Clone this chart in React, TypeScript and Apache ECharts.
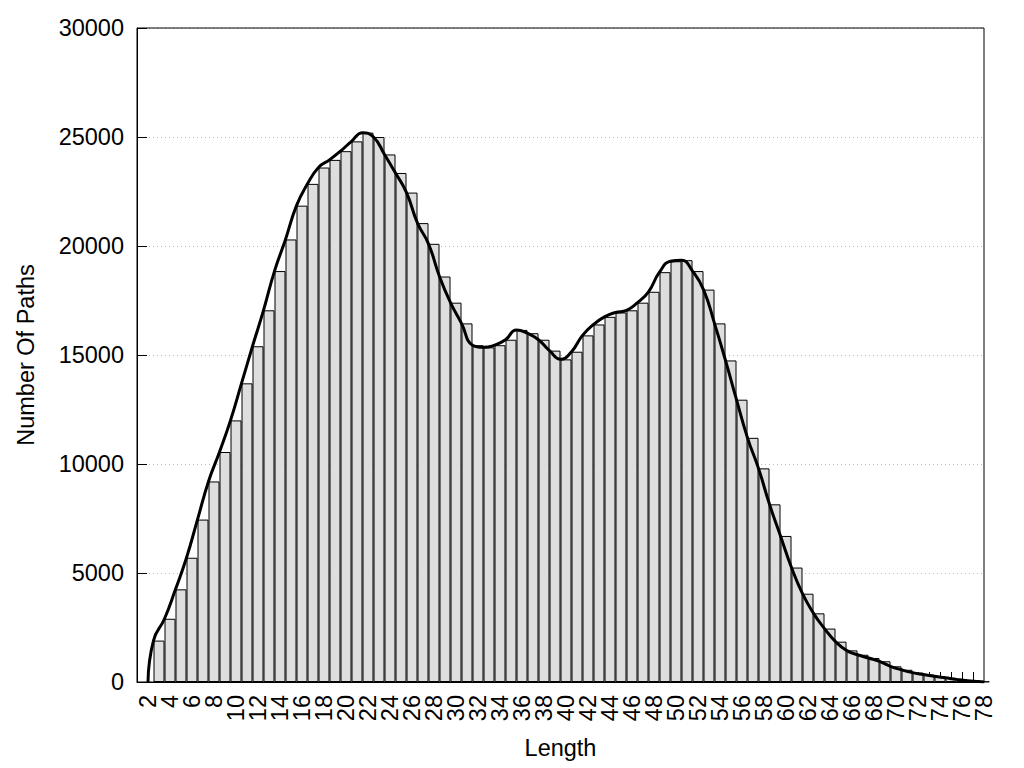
import React, { useEffect, useRef } from "react";
import * as echarts from "echarts";

// Histogram bins (path length) and their counts
const lengths = [
  3, 4, 5, 6, 7, 8, 9, 10, 11, 12, 13, 14, 15, 16, 17, 18, 19, 20, 21, 22,
  23, 24, 25, 26, 27, 28, 29, 30, 31, 32, 33, 34, 35, 36, 37, 38, 39, 40, 41, 42,
  43, 44, 45, 46, 47, 48, 49, 50, 51, 52, 53, 54, 55, 56, 57, 58, 59, 60, 61, 62,
  63, 64, 65, 66, 67, 68, 69, 70, 71, 72, 73, 74, 75, 76, 77, 78,
];
const pathCounts = [
  1900, 2900, 4250, 5700, 7450, 9200, 10550, 12000, 13700, 15400,
  17050, 18850, 20300, 21850, 22850, 23600, 23950, 24350, 24800, 25200,
  25000, 24200, 23350, 22450, 21050, 20100, 18600, 17400, 16450, 15450,
  15350, 15450, 15700, 16150, 16000, 15700, 15200, 14800, 15150, 15900,
  16400, 16750, 16950, 17050, 17400, 17900, 18800, 19300, 19350, 18850,
  18000, 16450, 14750, 12950, 11200, 9800, 8150, 6700, 5250, 4050,
  3150, 2450, 1850, 1450, 1250, 1100, 950, 720, 560, 430,
  340, 260, 190, 120, 60, 20,
];

// Smoothed curve drawn over the histogram (passes the bins' upper-left corners)
const curveLengths = [
  2, 2.5, 3.5, 4.5, 5.5, 6.5, 7.5, 8.5, 9.5, 10.5, 11.5, 12.5, 13.5, 14.5, 15.5,
  16.5, 17.5, 18.5, 19.5, 20.5, 21.5, 22.5, 23.5, 24.5, 25.5, 26.5, 27.5, 28.5,
  29.5, 30.5, 31.5, 32.5, 33.5, 34.5, 35.5, 36.5, 37.5, 38.5, 39.5, 40.5, 41.5,
  42.5, 43.5, 44.5, 45.5, 46.5, 47.5, 48.5, 49.5, 50.5, 51.5, 52.5, 53.5, 54.5,
  55.5, 56.5, 57.5, 58.5, 59.5, 60.5, 61.5, 62.5, 63.5, 64.5, 65.5, 66.5, 67.5,
  68.5, 69.5, 70.5, 71.5, 72.5, 73.5, 74.5, 75.5, 76.5, 77.5, 78,
];
const curveCounts = [
  0, 1900, 2900, 4250, 5700, 7450, 9200, 10550, 12000, 13700, 15400,
  17050, 18850, 20300, 21850, 22850, 23600, 23950, 24350, 24800, 25200,
  25000, 24200, 23350, 22450, 21050, 20100, 18600, 17400, 16450, 15450,
  15350, 15450, 15700, 16150, 16000, 15700, 15200, 14800, 15150, 15900,
  16400, 16750, 16950, 17050, 17400, 17900, 18800, 19300, 19350, 18850,
  18000, 16450, 14750, 12950, 11200, 9800, 8150, 6700, 5250, 4050,
  3150, 2450, 1850, 1450, 1250, 1100, 950, 720, 560, 430,
  340, 260, 190, 120, 60, 20, 0,
];

// Tick labels 2,4,...,78 split into two interleaved sets so none is dropped
const xTickLabelsA = [2, 6, 10, 14, 18, 22, 26, 30, 34, 38, 42, 46, 50, 54, 58, 62, 66, 70, 74, 78];
const xTickLabelsB = [4, 8, 12, 16, 20, 24, 28, 32, 36, 40, 44, 48, 52, 56, 60, 64, 68, 72, 76];
const xTickMarks = [
  2, 3, 4, 5, 6, 7, 8, 9, 10, 11, 12, 13, 14, 15, 16, 17, 18, 19, 20, 21, 22,
  23, 24, 25, 26, 27, 28, 29, 30, 31, 32, 33, 34, 35, 36, 37, 38, 39, 40, 41,
  42, 43, 44, 45, 46, 47, 48, 49, 50, 51, 52, 53, 54, 55, 56, 57, 58, 59, 60,
  61, 62, 63, 64, 65, 66, 67, 68, 69, 70, 71, 72, 73, 74, 75, 76, 77,
];
const yMin = 0;
const yMax = 30000;
const yStep = 5000;

const FONT = "'Liberation Sans', Arial, sans-serif";
const FS = 23.5;

const xLabelStyle = {
  rotate: 90,
  fontSize: FS,
  color: "#000",
  margin: 13,
  fontFamily: FONT,
  showMinLabel: true,
  showMaxLabel: true,
  hideOverlap: false,
};

export default function App() {
  const ref = useRef<HTMLDivElement>(null);

  useEffect(() => {
    if (!ref.current) return;
    const chart = echarts.init(ref.current, undefined, { renderer: "svg" });
    chart.setOption({
      animation: false,
      backgroundColor: "#ffffff",
      textStyle: { fontFamily: FONT },
      grid: {
        left: 137,
        right: 40,
        top: 28,
        bottom: 86,
        show: true,
        borderColor: "#000",
        borderWidth: 1,
        backgroundColor: "transparent",
        z: 10,
      },
      xAxis: [
        {
          type: "value",
          min: 1,
          max: 78,
          position: "bottom",
          name: "Length",
          nameLocation: "middle",
          nameGap: 54,
          nameTextStyle: { fontSize: FS, color: "#000", fontFamily: FONT },
          axisLine: { show: true, lineStyle: { color: "#000", width: 1 } },
          axisTick: {
            show: true,
            inside: true,
            length: 10,
            customValues: xTickMarks,
            lineStyle: { color: "#000", width: 1 },
          },
          splitLine: { show: false },
          axisLabel: { ...xLabelStyle, customValues: xTickLabelsA },
        },
        {
          type: "value",
          min: 1,
          max: 78,
          position: "bottom",
          offset: 0,
          axisLine: { show: false },
          axisTick: { show: false },
          splitLine: { show: false },
          axisLabel: { ...xLabelStyle, customValues: xTickLabelsB },
        },
      ],
      yAxis: {
        type: "value",
        min: yMin,
        max: yMax,
        interval: yStep,
        name: "Number Of Paths",
        nameLocation: "middle",
        nameGap: 99,
        nameTextStyle: { fontSize: FS, color: "#000", fontFamily: FONT },
        axisLine: { show: true, lineStyle: { color: "#000", width: 1 } },
        axisTick: { show: true, inside: true, length: 10, lineStyle: { color: "#000", width: 1 } },
        splitLine: { show: true, lineStyle: { color: "#bbbbbb", type: [1, 3], width: 1 } },
        axisLabel: {
          fontSize: FS,
          color: "#000",
          margin: 13,
          fontFamily: FONT,
          formatter: (v: number) => String(v),
        },
      },
      series: [
        {
          type: "bar",
          xAxisIndex: 0,
          data: lengths.map((l, i) => [l, pathCounts[i]]),
          barWidth: 11,
          itemStyle: { color: "#dedede", borderColor: "#000", borderWidth: 1 },
          clip: true,
          z: 2,
        },
        {
          type: "line",
          xAxisIndex: 0,
          data: curveLengths.map((l, i) => [l, curveCounts[i]]),
          smooth: 0.5,
          showSymbol: false,
          symbol: "none",
          lineStyle: { color: "#000", width: 3 },
          clip: true,
          z: 5,
        },
      ],
    });
    return () => chart.dispose();
  }, []);

  return (
    <div
      ref={ref}
      style={{ position: "absolute", left: 0, top: 0, width: 1024, height: 768 }}
    />
  );
}
